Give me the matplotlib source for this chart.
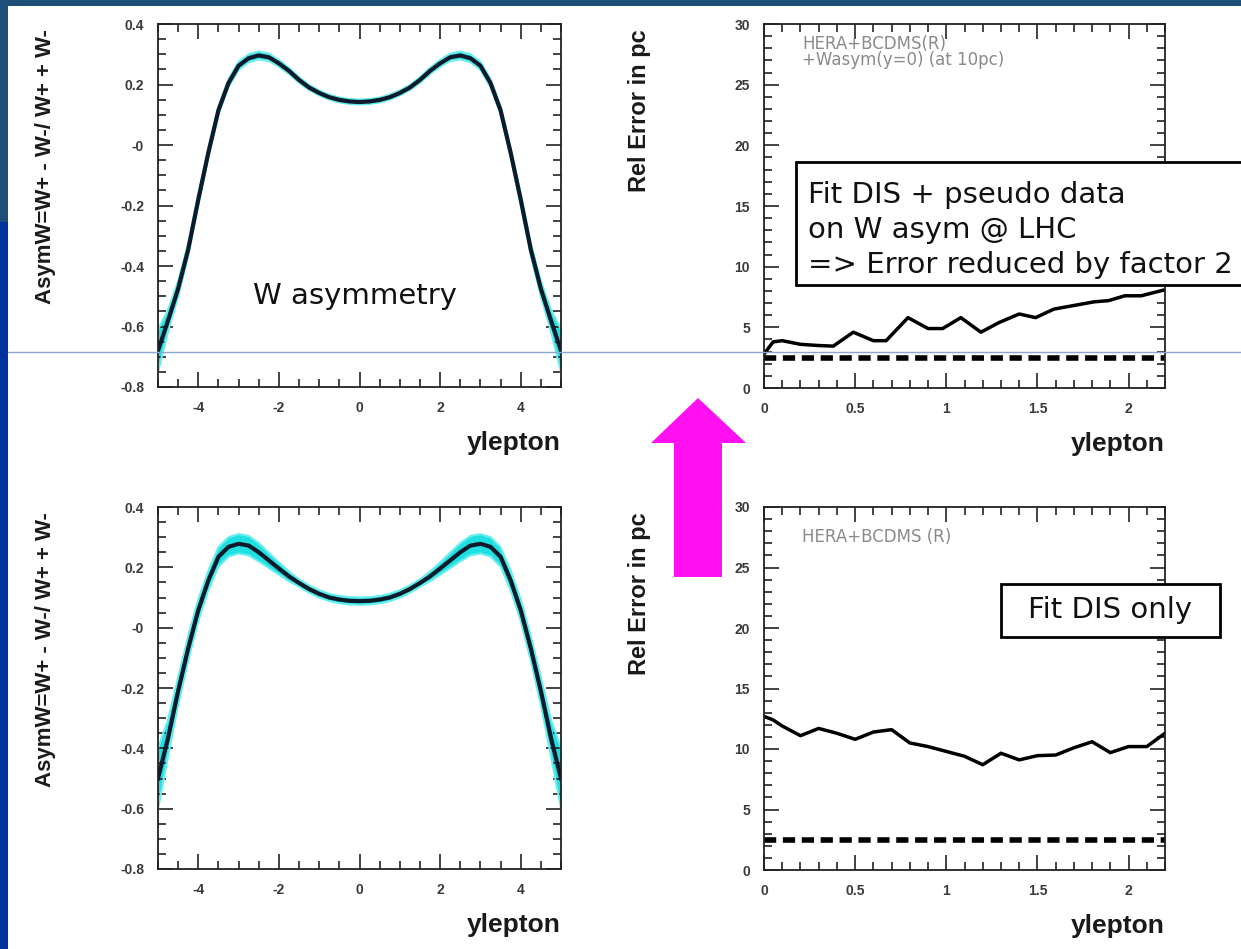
import numpy as np
import matplotlib
matplotlib.use("Agg")
import matplotlib.pyplot as plt
from matplotlib.patches import Rectangle, Polygon
from matplotlib.lines import Line2D

# ---- data ----
y_lep = [-5.0, -4.75, -4.5, -4.25, -4.0, -3.75, -3.5, -3.25, -3.0, -2.75, -2.5,
         -2.25, -2.0, -1.75, -1.5, -1.25, -1.0, -0.75, -0.5, -0.25, 0.0,
         0.25, 0.5, 0.75, 1.0, 1.25, 1.5, 1.75, 2.0, 2.25, 2.5,
         2.75, 3.0, 3.25, 3.5, 3.75, 4.0, 4.25, 4.5, 4.75, 5.0]

# W asymmetry, fit DIS + pseudo data (top)
asym_fit = [-0.68, -0.58, -0.475, -0.345, -0.18, -0.025, 0.115, 0.205, 0.262, 0.287, 0.296,
            0.29, 0.27, 0.245, 0.215, 0.19, 0.172, 0.158, 0.149, 0.144, 0.142,
            0.144, 0.149, 0.158, 0.172, 0.19, 0.215, 0.245, 0.27, 0.29, 0.296,
            0.287, 0.262, 0.205, 0.115, -0.025, -0.18, -0.345, -0.475, -0.58, -0.68]
asym_fit_err = [0.07, 0.035, 0.025, 0.02, 0.018, 0.014, 0.013, 0.013, 0.013, 0.013, 0.013,
                0.012, 0.011, 0.01, 0.009, 0.008, 0.008, 0.008, 0.008, 0.008, 0.008,
                0.008, 0.008, 0.008, 0.008, 0.008, 0.009, 0.01, 0.011, 0.012, 0.013,
                0.013, 0.013, 0.013, 0.013, 0.014, 0.018, 0.02, 0.025, 0.035, 0.07]

# W asymmetry, fit DIS only (bottom)
asym_dis = [-0.50, -0.365, -0.21, -0.068, 0.058, 0.157, 0.235, 0.268, 0.278, 0.272, 0.25,
            0.223, 0.196, 0.17, 0.148, 0.128, 0.112, 0.1, 0.093, 0.089, 0.088,
            0.089, 0.093, 0.1, 0.112, 0.128, 0.148, 0.17, 0.196, 0.223, 0.25,
            0.272, 0.278, 0.268, 0.235, 0.157, 0.058, -0.068, -0.21, -0.365, -0.50]
asym_dis_err = [0.10, 0.06, 0.045, 0.04, 0.035, 0.032, 0.032, 0.032, 0.032, 0.032, 0.03,
                0.025, 0.02, 0.016, 0.012, 0.012, 0.012, 0.012, 0.012, 0.012, 0.012,
                0.012, 0.012, 0.012, 0.012, 0.012, 0.012, 0.016, 0.02, 0.025, 0.03,
                0.032, 0.032, 0.032, 0.032, 0.032, 0.035, 0.04, 0.045, 0.06, 0.10]

# relative error (pc), fit DIS + pseudo data
y_rel_top = [0.0, 0.05, 0.1, 0.2, 0.3, 0.38, 0.49, 0.6, 0.67, 0.79, 0.9, 0.98, 1.08,
             1.19, 1.29, 1.4, 1.49, 1.59, 1.7, 1.81, 1.89, 1.98, 2.07, 2.2]
rel_err_top = [2.8, 3.8, 3.9, 3.6, 3.5, 3.45, 4.6, 3.9, 3.9, 5.8, 4.9, 4.9, 5.8,
               4.6, 5.4, 6.1, 5.8, 6.5, 6.8, 7.1, 7.2, 7.6, 7.6, 8.1]

# relative error (pc), fit DIS only
y_rel_bot = [0.0, 0.05, 0.1, 0.2, 0.3, 0.4, 0.5, 0.6, 0.7, 0.8, 0.9, 1.0, 1.1,
             1.2, 1.3, 1.4, 1.5, 1.6, 1.7, 1.8, 1.9, 2.0, 2.1, 2.2]
rel_err_bot = [12.7, 12.4, 11.9, 11.1, 11.7, 11.3, 10.8, 11.4, 11.6, 10.5, 10.2, 9.8, 9.4,
               8.7, 9.65, 9.1, 9.45, 9.5, 10.1, 10.6, 9.7, 10.2, 10.2, 11.3]

ref_level = [2.5, 2.5]
ref_x = [0.0, 2.2]

asym_ticks = [0.4, 0.2, 0.0, -0.2, -0.4, -0.6, -0.8]
asym_labels = ["0.4", "0.2", "-0", "-0.2", "-0.4", "-0.6", "-0.8"]
ylep_ticks = [-4, -2, 0, 2, 4]
ylep_labels = ["-4", "-2", "0", "2", "4"]
rel_ticks = [0, 5, 10, 15, 20, 25, 30]
rel_labels = ["0", "5", "10", "15", "20", "25", "30"]
yr_ticks = [0, 0.5, 1, 1.5, 2]
yr_labels = ["0", "0.5", "1", "1.5", "2"]

W, H = 1241, 949
fig = plt.figure(figsize=(W / 100, H / 100), dpi=100)
fig.patch.set_facecolor("white")


def px_ax(l, t, r, b):
    return [l / W, 1 - b / H, (r - l) / W, (b - t) / H]


def root_style(ax):
    for s in ax.spines.values():
        s.set_linewidth(1.3)
        s.set_color("#222222")
    ax.tick_params(which="both", direction="in", top=True, right=True,
                   colors="#222222", labelcolor="#3a3a3a", width=1.2)
    ax.tick_params(which="major", length=11, pad=10, labelsize=10)
    ax.tick_params(which="minor", length=6)
    for lab in ax.get_xticklabels() + ax.get_yticklabels():
        lab.set_fontweight("bold")
        lab.set_family("Liberation Sans")


lab_font = dict(family="Liberation Sans", fontweight="bold", color="#1a1a1a")
box_font = dict(family="DejaVu Sans", color="#111111")


def asym_panel(rect, y, err):
    ax = fig.add_axes(rect)
    yv = np.array(y)
    ev = np.array(err)
    ax.fill_between(y_lep, yv - ev, yv + ev, color="#1fe0e0", lw=0)
    ax.plot(y_lep, yv + ev, color="#66eeee", lw=1.5)
    ax.plot(y_lep, yv - ev, color="#66eeee", lw=1.5)
    ax.plot(y_lep, y, color="#0b1b2b", lw=3)
    ax.set_xlim(-5, 5)
    ax.set_ylim(-0.8, 0.4)
    ax.set_xticks(ylep_ticks, ylep_labels)
    ax.set_xticks(np.arange(-5, 5.01, 0.5), minor=True)
    ax.set_yticks(asym_ticks, asym_labels)
    ax.set_yticks(np.arange(-0.8, 0.401, 0.05), minor=True)
    root_style(ax)
    ax.text(-0.28, 0.985, "AsymW=W+ - W-/ W+ + W-", rotation=90, ha="center", va="top",
            transform=ax.transAxes, fontsize=16, **lab_font)
    ax.text(1.0, -0.155, "ylepton", ha="right", va="center",
            transform=ax.transAxes, fontsize=19, **lab_font)
    return ax


def rel_panel(rect, x, y, legend_lines, legend_y):
    ax = fig.add_axes(rect)
    ax.plot(x, y, color="black", lw=2.5)
    ax.plot(ref_x, ref_level, color="black", lw=4, ls=(0, (2.2, 1.2)))
    ax.set_xlim(0, 2.2)
    ax.set_ylim(0, 30)
    ax.set_xticks(yr_ticks, yr_labels)
    ax.set_xticks(np.arange(0, 2.201, 0.1), minor=True)
    ax.set_yticks(rel_ticks, rel_labels)
    ax.set_yticks(np.arange(0, 30.01, 1), minor=True)
    root_style(ax)
    ax.text(-0.31, 0.985, "Rel Error in pc", rotation=90, ha="center", va="top",
            transform=ax.transAxes, fontsize=17, **lab_font)
    ax.text(1.0, -0.155, "ylepton", ha="right", va="center",
            transform=ax.transAxes, fontsize=19, **lab_font)
    for line, ly in zip(legend_lines, legend_y):
        t = ax.text(0.095, ly, line, ha="left", va="center",
                    transform=ax.transAxes, fontsize=12, color="#8a8a8a",
                    family="DejaVu Sans")
        t.set_clip_on(True)
    return ax


ax1 = asym_panel(px_ax(158, 24, 561, 387), asym_fit, asym_fit_err)
ax1.text(0.49, 0.25, "W asymmetry", ha="center", va="center", transform=ax1.transAxes,
         fontsize=21, **box_font)
ax2 = rel_panel(px_ax(764, 24, 1165, 388), y_rel_top, rel_err_top,
                ["HERA+BCDMS(R)", "+Wasym(y=0) (at 10pc)"], [0.945, 0.900])
ax3 = asym_panel(px_ax(158, 507, 561, 869), asym_dis, asym_dis_err)
ax4 = rel_panel(px_ax(764, 507, 1165, 870), y_rel_bot, rel_err_bot,
                ["HERA+BCDMS (R)"], [0.917])


def fx(x):
    return x / W


def fy(y):
    return 1 - y / H


# callout boxes
fig.add_artist(Rectangle((fx(796), fy(285)), fx(1270) - fx(796), fy(162) - fy(285),
                         transform=fig.transFigure, facecolor="white",
                         edgecolor="black", lw=2, zorder=5))
for i, line in enumerate(["Fit DIS + pseudo data", "on W asym @ LHC",
                          "=> Error reduced by factor 2"]):
    fig.text(fx(808), fy(195 + i * 35), line, ha="left", va="center", fontsize=21,
             zorder=6, **box_font)

fig.add_artist(Rectangle((fx(1001), fy(637)), fx(1220) - fx(1001), fy(584) - fy(637),
                         transform=fig.transFigure, facecolor="white",
                         edgecolor="black", lw=2, zorder=5))
fig.text(fx(1110), fy(610), "Fit DIS only", ha="center", va="center", fontsize=21,
         zorder=6, **box_font)

# magenta arrow
arrow_px = [(698, 398), (746, 443), (722, 443), (722, 577),
            (674, 577), (674, 443), (651, 443)]
fig.add_artist(Polygon([(fx(a), fy(b)) for a, b in arrow_px], closed=True,
                       transform=fig.transFigure, facecolor="#ff10f0",
                       edgecolor="none", zorder=4))

# slide frame
fig.add_artist(Rectangle((0, fy(6)), 1, fy(0) - fy(6), transform=fig.transFigure,
                         facecolor="#1f4e79", edgecolor="none", zorder=7))
fig.add_artist(Rectangle((0, fy(222)), fx(8), fy(0) - fy(222), transform=fig.transFigure,
                         facecolor="#1f4e79", edgecolor="none", zorder=7))
fig.add_artist(Rectangle((0, 0), fx(8), fy(222), transform=fig.transFigure,
                         facecolor="#0033a0", edgecolor="none", zorder=7))
fig.add_artist(Line2D([fx(8), 1], [fy(352), fy(352)], transform=fig.transFigure,
                      color="#8ea5d0", lw=1, zorder=8))

fig.savefig("out.png", dpi=100, facecolor=fig.get_facecolor())
